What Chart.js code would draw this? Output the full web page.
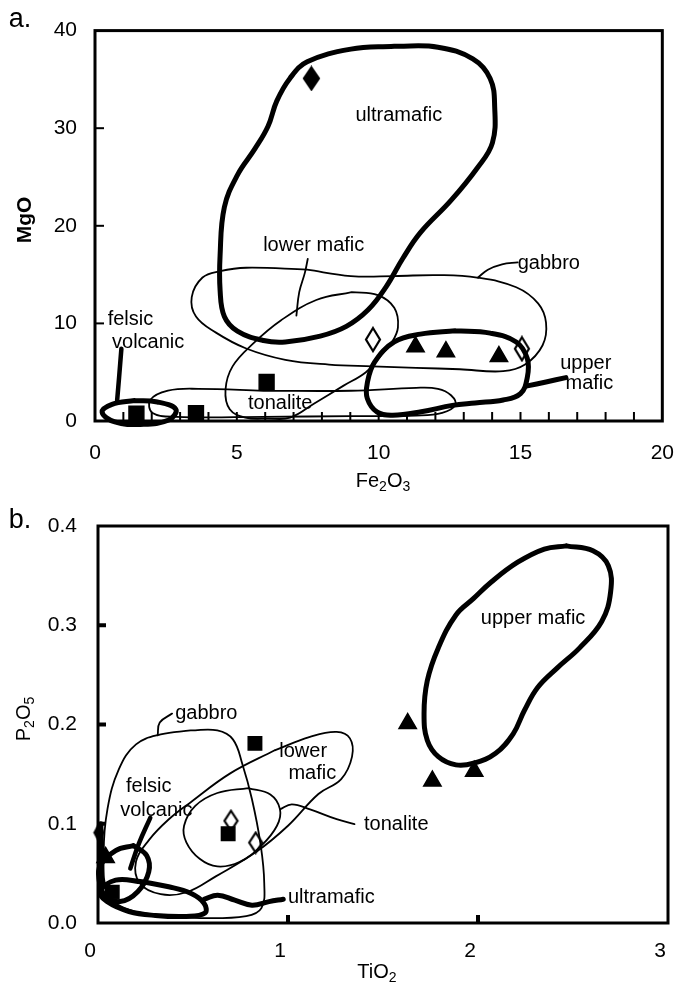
<!DOCTYPE html>
<html>
<head>
<meta charset="utf-8">
<script src="https://cdn.jsdelivr.net/npm/chart.js@4"></script>
<style>
  html, body { margin: 0; padding: 0; background: #fff; }
  #wrap { position: relative; width: 694px; height: 982px; }
  canvas { position: absolute; left: 0; }
</style>
</head>
<body>
<div id="wrap">
  <canvas id="chartA" width="694" height="491" style="top:0"></canvas>
  <canvas id="chartB" width="694" height="491" style="top:491px"></canvas>
</div>
<script>
// ---------- panel a : MgO vs Fe2O3 ----------
const aFilledDiamonds = [[7.63, 35.1]];
const aOpenDiamonds = [[9.8, 8.35], [15.05, 7.4]];
const aTriangles = [[11.3, 7.6], [12.37, 7.1], [14.24, 6.6]];
const aSquares = [[1.46, 0.75], [3.56, 0.8], [6.05, 4.0]];

// envelopes (closed outlines, first point repeated at the end)
const aUltramafic = [[10.55, 38.4], [12.09, 38.3], [13.32, 37.1], [13.93, 35.1], [14.09, 32.2], [14.01, 28.5],
  [13.47, 25.9], [12.55, 22.6], [11.47, 19.3], [10.86, 16.7], [10.25, 13.7], [9.63, 11.4], [8.86, 9.7],
  [7.94, 8.7], [6.71, 8.1], [5.94, 8.25], [5.02, 9.2], [4.56, 10.7], [4.41, 13.4], [4.41, 17.0], [4.56, 21.9],
  [5.02, 25.2], [5.64, 27.9], [6.1, 30.2], [6.41, 32.8], [6.87, 35.1], [7.48, 36.8], [9.02, 38.1], [10.55, 38.4]];
const aGabbro = [[7.48, 15.5], [9.02, 14.85], [10.55, 14.85], [12.09, 14.95], [13.47, 14.7], [14.85, 13.7],
  [15.62, 12.05], [15.9, 10.07], [15.78, 7.76], [15.16, 5.78], [14.39, 5.1], [12.86, 5.3], [11.32, 5.45],
  [9.78, 5.6], [8.25, 5.78], [6.71, 6.27], [5.33, 7.43], [4.25, 9.08], [3.56, 10.7], [3.41, 12.7],
  [3.79, 14.7], [4.41, 15.35], [5.33, 15.7], [7.48, 15.5]];
const aLowerMafic = [[9.05, 13.2], [9.97, 12.9], [10.55, 11.6], [10.68, 9.6], [10.45, 8.0], [10.05, 6.6],
  [9.55, 5.0], [8.75, 3.6], [7.73, 1.8], [6.88, 0.35], [6.1, 0.25], [5.3, 0.35], [4.75, 1.2], [4.6, 3.2],
  [4.85, 5.6], [5.6, 8.0], [6.55, 10.3], [7.8, 12.4], [9.05, 13.2]];
const aTonalite = [[5.94, 3.1], [9.02, 3.1], [11.32, 3.4], [12.09, 3.3], [12.55, 2.64], [12.7, 1.65],
  [12.24, 0.83], [11.32, 0.56], [9.02, 0.5], [5.94, 0.43], [2.87, 0.43], [2.03, 0.83], [1.95, 2.15],
  [2.57, 3.1], [3.64, 3.3], [5.94, 3.1]];
const aUpperMafic = [[12.7, 9.24], [13.93, 9.0], [14.85, 8.1], [15.24, 6.4], [15.24, 4.45], [15.0, 2.8],
  [14.39, 2.15], [13.4, 1.85], [12.6, 1.6], [11.5, 0.95], [10.5, 0.6], [9.95, 0.9], [9.6, 2.3], [9.6, 3.9],
  [9.85, 6.0], [10.55, 8.1], [11.47, 8.9], [12.7, 9.24]];
const aFelsic = [[1.4, 2.1], [2.2, 1.95], [2.85, 1.2], [2.6, 0.1], [1.6, -0.35], [0.7, -0.1], [0.25, 0.9],
  [0.6, 1.7], [1.4, 2.1]];

// leader lines
const aLowerMaficLeader = [[7.5, 16.6], [7.4, 15.2], [7.2, 13.2], [7.1, 10.8]];
const aGabbroLeader = [[13.5, 14.7], [13.85, 15.5], [14.35, 16.05], [14.9, 16.25]];
const aUpperMaficTail = [[15.24, 3.6], [15.9, 4.0], [16.6, 4.45]];
const aFelsicLeader = [[0.93, 7.4], [0.85, 4.5], [0.78, 2.1]];

const aLabels = [['ultramafic', 10.71, 31.35], ['lower mafic', 7.71, 18.0], ['gabbro', 16.0, 16.17],
  ['felsic', 1.25, 10.4], ['volcanic', 1.875, 8.08], ['tonalite', 6.53, 1.77], ['upper', 17.3, 5.94],
  ['mafic', 17.43, 3.8]];
const aXTicks = [1, 2, 3, 4, 5, 6, 7, 8, 9, 10, 11, 12, 13, 14, 15, 16, 17, 18, 19];
const aYTicks = [10, 20, 30];

// ---------- panel b : P2O5 vs TiO2 ----------
const bFilledDiamonds = [[0.005, 0.091]];
const bOpenDiamonds = [[0.70, 0.103], [0.83, 0.081]];
const bTriangles = [[1.63, 0.201], [1.76, 0.143], [1.98, 0.153], [0.04, 0.066]];
const bSquares = [[0.826, 0.181], [0.685, 0.09], [0.075, 0.031]];

const bUpperMafic = [[2.465, 0.380], [2.605, 0.375], [2.686, 0.360], [2.698, 0.3336], [2.651, 0.3037],
  [2.535, 0.2772], [2.419, 0.2573], [2.314, 0.2373], [2.244, 0.2141], [2.186, 0.1909], [2.093, 0.171],
  [1.977, 0.161], [1.884, 0.1593], [1.791, 0.1676], [1.733, 0.1842], [1.716, 0.2108], [1.733, 0.244],
  [1.791, 0.2772], [1.884, 0.3104], [1.977, 0.327], [2.07, 0.3436], [2.209, 0.3635], [2.349, 0.3768],
  [2.465, 0.380]];
const bLowerMafic = [[0.93, 0.174], [1.116, 0.1876], [1.256, 0.1925], [1.326, 0.186], [1.337, 0.1676],
  [1.28, 0.145], [1.16, 0.13], [1.0, 0.098], [0.835, 0.072], [0.62, 0.047], [0.467, 0.031], [0.33, 0.029],
  [0.22, 0.04], [0.2, 0.062], [0.27, 0.084], [0.37, 0.104], [0.49, 0.122], [0.698, 0.151], [0.93, 0.174]];
const bTonalite = [[0.791, 0.136], [0.907, 0.1295], [0.958, 0.1145], [0.942, 0.098], [0.86, 0.078],
  [0.744, 0.0614], [0.628, 0.057], [0.535, 0.0647], [0.465, 0.0813], [0.453, 0.098], [0.512, 0.118],
  [0.628, 0.131], [0.791, 0.136]];
const bGabbro = [[0.488, 0.194], [0.628, 0.194], [0.71, 0.185], [0.76, 0.16], [0.81, 0.125], [0.855, 0.08],
  [0.875, 0.04], [0.86, 0.015], [0.78, 0.007], [0.535, 0.005], [0.302, 0.0083], [0.14, 0.015], [0.05, 0.03],
  [0.03, 0.07], [0.05, 0.115], [0.11, 0.155], [0.2, 0.18], [0.33, 0.19], [0.488, 0.194]];
const bFelsic = [[0.186, 0.078], [0.256, 0.068], [0.267, 0.0515], [0.209, 0.0315], [0.116, 0.0216],
  [0.035, 0.028], [0.005, 0.0448], [0.012, 0.058], [0.093, 0.073], [0.186, 0.078]];
const bUltramafic = [[0.233, 0.0415], [0.372, 0.0365], [0.488, 0.0299], [0.558, 0.0199], [0.563, 0.01],
  [0.465, 0.0066], [0.302, 0.0076], [0.163, 0.0116], [0.047, 0.0216], [0.012, 0.0315], [0.093, 0.0432],
  [0.233, 0.0415]];

const bGabbroLeader = [[0.314, 0.189], [0.325, 0.202], [0.39, 0.211]];
const bTonaliteLeader = [[0.958, 0.1145], [1.02, 0.1195], [1.116, 0.1145], [1.256, 0.1046], [1.35, 0.0996]];
const bFelsicLeader = [[0.17, 0.055], [0.215, 0.08], [0.275, 0.106]];
const bUltramaficTail = [[0.56, 0.024], [0.63, 0.028], [0.72, 0.023], [0.81, 0.018], [0.9, 0.0215], [0.975, 0.024]];
const bAxisStreak = [[0.015, 0.1], [0.02, 0.04]];

const bLabels = [['upper mafic', 2.29, 0.307], ['lower', 1.08, 0.1726], ['mafic', 1.128, 0.151],
  ['felsic', 0.267, 0.138], ['volcanic', 0.307, 0.113], ['gabbro', 0.57, 0.211], ['tonalite', 1.57, 0.0996],
  ['ultramafic', 1.228, 0.0256]];
const bXTicks = [1, 2];
const bYTicks = [0.1, 0.2, 0.3];

// ---------- helpers ----------
const FONT = "'Liberation Sans', Arial, sans-serif";
Chart.defaults.font.family = FONT;
Chart.defaults.font.size = 21;
Chart.defaults.color = '#000';

const toXY = pts => pts.map(p => ({ x: p[0], y: p[1] }));

function curve(pts, width) {
  return {
    data: toXY(pts), showLine: true, borderColor: '#000', backgroundColor: '#000',
    borderWidth: width, pointRadius: 0, tension: 0.4, fill: false, clip: false,
    borderJoinStyle: 'round', borderCapStyle: 'round'
  };
}

function marks(pts, style, radius, fill) {
  return {
    data: toXY(pts), showLine: false, pointStyle: style, pointRadius: radius,
    backgroundColor: fill, borderColor: '#000', borderWidth: 1.5, clip: false
  };
}

function diamond(w, h, filled) {
  const c = document.createElement('canvas');
  c.width = w + 4; c.height = h + 4;
  const g = c.getContext('2d');
  g.beginPath();
  g.moveTo(c.width / 2, 2); g.lineTo(c.width - 2, c.height / 2);
  g.lineTo(c.width / 2, c.height - 2); g.lineTo(2, c.height / 2);
  g.closePath();
  g.fillStyle = filled ? '#000' : '#fff';
  g.fill();
  g.lineWidth = 2.2; g.strokeStyle = '#000'; g.stroke();
  return c;
}

// text with subscripts: parts = [[text, isSub], ...]
function drawRich(ctx, parts, x, y, size) {
  const sub = Math.round(size * 0.68);
  let total = 0;
  parts.forEach(p => {
    ctx.font = (p[1] ? sub : size) + 'px ' + FONT;
    total += ctx.measureText(p[0]).width;
  });
  let cx = x - total / 2;
  ctx.textAlign = 'left';
  ctx.textBaseline = 'middle';
  parts.forEach(p => {
    ctx.font = (p[1] ? sub : size) + 'px ' + FONT;
    ctx.fillText(p[0], cx, p[1] ? y + size * 0.3 : y);
    cx += ctx.measureText(p[0]).width;
  });
}

const decor = {
  id: 'decor',
  afterDatasetsDraw(chart, args, o) {
    const { ctx, chartArea: a, scales: { x, y } } = chart;
    ctx.save();
    ctx.strokeStyle = '#000';
    ctx.fillStyle = '#000';
    // frame
    ctx.lineWidth = 3;
    ctx.strokeRect(a.left, a.top, a.right - a.left, a.bottom - a.top);
    // inward ticks
    ctx.lineWidth = o.tickWidth;
    o.xTicks.forEach(v => {
      const px = x.getPixelForValue(v);
      ctx.beginPath(); ctx.moveTo(px, a.bottom); ctx.lineTo(px, a.bottom - o.tickLen); ctx.stroke();
    });
    o.yTicks.forEach(v => {
      const py = y.getPixelForValue(v);
      ctx.beginPath(); ctx.moveTo(a.left, py); ctx.lineTo(a.left + o.tickLen, py); ctx.stroke();
    });
    // envelope names
    ctx.font = '20px ' + FONT;
    ctx.textAlign = 'center';
    ctx.textBaseline = 'middle';
    o.labels.forEach(l => ctx.fillText(l[0], x.getPixelForValue(l[1]), y.getPixelForValue(l[2])));
    // panel letter
    ctx.font = '27px ' + FONT;
    ctx.fillText(o.letter, 20, o.letterY);
    // axis titles
    drawRich(ctx, o.xTitle, o.xTitlePos[0], o.xTitlePos[1], 20);
    ctx.translate(o.yTitlePos[0], o.yTitlePos[1]);
    ctx.rotate(-Math.PI / 2);
    if (o.yBold) {
      ctx.font = 'bold 21px ' + FONT;
      ctx.textAlign = 'center';
      ctx.fillText(o.yTitle[0][0], 0, 0);
    } else {
      drawRich(ctx, o.yTitle, 0, 0, 20);
    }
    ctx.restore();
  }
};

// ---------- chart a ----------
new Chart(document.getElementById('chartA').getContext('2d'), {
  type: 'scatter',
  data: {
    datasets: [
      curve(aUltramafic, 5), curve(aUpperMafic, 5), curve(aFelsic, 5),
      curve(aGabbro, 1.8), curve(aLowerMafic, 1.8), curve(aTonalite, 1.8),
      curve(aLowerMaficLeader, 1.8), curve(aGabbroLeader, 1.8),
      curve(aUpperMaficTail, 5), curve(aFelsicLeader, 4.5),
      marks(aSquares, 'rect', 10.5, '#000'),
      marks(aTriangles, 'triangle', 10, '#000'),
      marks(aOpenDiamonds, diamond(14, 23, false), 8, '#fff'),
      marks(aFilledDiamonds, diamond(15, 22, true), 8, '#000')
    ]
  },
  options: {
    responsive: false,
    animation: false,
    events: [],
    layout: { padding: { top: 20, right: 23, left: 0, bottom: 0 } },
    elements: { line: { capBezierPoints: false } },
    plugins: {
      legend: { display: false },
      tooltip: { enabled: false },
      decor: {
        xTicks: aXTicks, yTicks: aYTicks, tickLen: 9, tickWidth: 2,
        labels: aLabels, letter: 'a.', letterY: 20,
        xTitle: [['Fe', 0], ['2', 1], ['O', 0], ['3', 1]], xTitlePos: [383, 481],
        yTitle: [['MgO', 0]], yTitlePos: [25, 220], yBold: true
      }
    },
    scales: {
      x: {
        type: 'linear', min: 0, max: 20,
        ticks: { stepSize: 5, padding: 20 },
        grid: { display: false, drawTicks: false }, border: { display: false },
        afterFit: s => { s.height = 70; }
      },
      y: {
        type: 'linear', min: 0, max: 40,
        ticks: { stepSize: 10, padding: 18 },
        grid: { display: false, drawTicks: false }, border: { display: false },
        afterFit: s => { s.width = 95; }
      }
    }
  },
  plugins: [decor]
});

// ---------- chart b ----------
new Chart(document.getElementById('chartB').getContext('2d'), {
  type: 'scatter',
  data: {
    datasets: [
      curve(bUpperMafic, 5), curve(bFelsic, 5), curve(bUltramafic, 5),
      curve(bLowerMafic, 1.8), curve(bTonalite, 1.8), curve(bGabbro, 1.8),
      curve(bGabbroLeader, 1.8), curve(bTonaliteLeader, 1.8),
      curve(bFelsicLeader, 4.5), curve(bUltramaficTail, 5), curve(bAxisStreak, 5),
      marks(bSquares, 'rect', 9.5, '#000'),
      marks(bTriangles, 'triangle', 10, '#000'),
      marks(bOpenDiamonds, diamond(13, 20, false), 8, '#fff'),
      marks(bFilledDiamonds, diamond(9, 17, true), 8, '#000')
    ]
  },
  options: {
    responsive: false,
    animation: false,
    events: [],
    layout: { padding: { top: 35, right: 26, left: 0, bottom: 0 } },
    elements: { line: { capBezierPoints: false } },
    plugins: {
      legend: { display: false },
      tooltip: { enabled: false },
      decor: {
        xTicks: bXTicks, yTicks: bYTicks, tickLen: 8, tickWidth: 4,
        labels: bLabels, letter: 'b.', letterY: 30,
        xTitle: [['TiO', 0], ['2', 1]], xTitlePos: [377, 481],
        yTitle: [['P', 0], ['2', 1], ['O', 0], ['5', 1]], yTitlePos: [24, 228], yBold: false
      }
    },
    scales: {
      x: {
        type: 'linear', min: 0, max: 3,
        ticks: { stepSize: 1, padding: 16, labelOffset: -8 },
        grid: { display: false, drawTicks: false }, border: { display: false },
        afterFit: s => { s.height = 59; }
      },
      y: {
        type: 'linear', min: 0, max: 0.4,
        ticks: { stepSize: 0.1, padding: 21, callback: v => v.toFixed(1) },
        grid: { display: false, drawTicks: false }, border: { display: false },
        afterFit: s => { s.width = 98; }
      }
    }
  },
  plugins: [decor]
});
</script>
</body>
</html>
